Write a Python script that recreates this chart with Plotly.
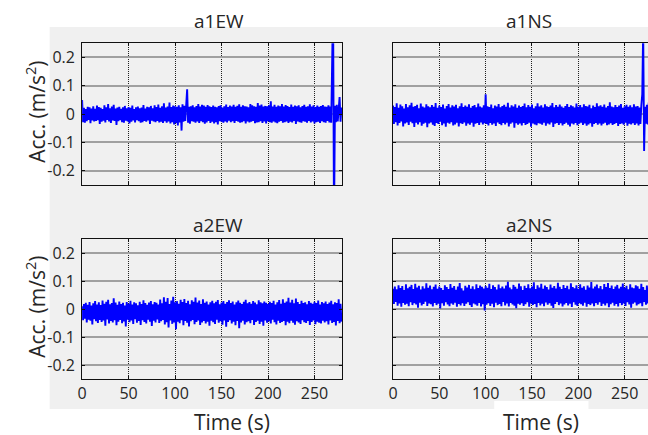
import numpy as np
import plotly.graph_objects as go

# Acceleration records in mm/s^2, one sample per second
a1EW = [
    50, -28, 22, -30, 18, -25, 26, -20, 24, -32, 20, -22, 28, -26, 19, -24, 30, -21, 25, -35,
    22, -27, 18, -23, 31, -29, 24, -20, 36, -26, 21, -31, 27, -22, 33, -24, 20, -38, 23, -25,
    26, -21, 19, -28, 24, -30, 29, -23, 21, -26, 25, -33, 22, -27, 30, -22, 18, -29, 24, -21,
    27, -25, 21, -30, 23, -28, 32, -24, 20, -27, 26, -22, 24, -35, 29, -23, 21, -26, 31, -28,
    25, -24, 34, -29, 22, -27, 28, -31, 38, -25, 23, -30, 27, -26, 41, -33, 25, -28, 30, -36,
    28, -31, 26, -40, 31, -29, 24, -58, 35, -27, 29, -24, 33, 88, -30, 26, -34, 28, -25, 31,
    -27, 24, -30, 29, -26, 36, -31, 27, -25, 33, -28, 30, -34, 26, -29, 32, -24, 28, -31, 25,
    -27, 30, -33, 26, -28, 24, -36, 29, -25, 31, -27, 23, -30, 28, -26, 34, -29, 25, -23, 30,
    -28, 27, -25, 33, -31, 26, -24, 29, -27, 35, -30, 26, -28, 31, -25, 28, -33, 27, -26, 24,
    -29, 36, -27, 31, -24, 28, -32, 26, -29, 39, -28, 30, -25, 34, -31, 27, -26, 29, -33, 28,
    -25, 31, -28, 45, -30, 27, -26, 33, -29, 26, -32, 30, -27, 28, -24, 36, -30, 27, -28, 32,
    -26, 29, -31, 25, -27, 34, -29, 26, -24, 30, -35, 28, -26, 31, -28, 24, -30, 29, -25, 33,
    -27, 26, -30, 28, -24, 35, -29, 27, -26, 31, -33, 25, -28, 30, -27, 26, -31, 29, -25, 32,
    -28, 27, -30, 26, -24, 31, -29, 27, -30, 140, 400, -400, 30, -28, 33, -26, 29, 60, -27, 24,
]

a1NS = [
    30, -35, 25, -28, 38, -40, 22, -31, 34, -26, 28, -43, 20, -33, 36, -29, 24, -38, 31, -27,
    40, -32, 26, -45, 29, -30, 33, -36, 21, -28, 37, -41, 27, -34, 23, -30, 35, -46, 28, -33,
    24, -29, 32, -37, 26, -42, 39, -31, 22, -35, 30, -27, 25, -39, 34, -33, 20, -44, 29, -30,
    36, -34, 23, -28, 31, -40, 27, -36, 33, -30, 21, -43, 28, -32, 38, -35, 25, -29, 30, -41,
    26, -33, 35, -37, 22, -30, 29, -44, 32, -34, 24, -31, 37, -38, 27, -29, 23, -36, 31, -32,
    70, -35, 28, -40, 25, -31, 34, -37, 21, -33, 30, -42, 27, -29, 36, -35, 24, -39, 29, -31,
    33, -36, 26, -30, 40, -43, 23, -34, 31, -29, 27, -48, 35, -32, 22, -37, 30, -33, 25, -40,
    29, -31, 37, -38, 24, -35, 32, -30, 26, -44, 34, -33, 21, -36, 28, -39, 38, -32, 27, -34,
    31, -37, 23, -30, 35, -41, 28, -33, 25, -36, 30, -29, 39, -45, 24, -34, 32, -31, 26, -38,
    34, -32, 27, -40, 22, -35, 29, -30, 36, -37, 25, -43, 31, -33, 28, -36, 23, -31, 37, -39,
    26, -34, 32, -30, 24, -38, 35, -33, 29, -41, 27, -36, 33, -32, 21, -44, 30, -35, 25, -31,
    38, -37, 28, -33, 31, -40, 26, -34, 34, -30, 23, -39, 29, -36, 42, -32, 27, -38, 24, -35,
    32, -31, 25, -42, 30, -35, 36, -33, 22, -37, 28, -30, 33, -41, 26, -34, 31, -36, 24, -32,
    35, -38, 27, -33, 29, -40, 23, -35, 31, 70, 300, -130, 26, -34, 33, -36, 41, -31, 28, -37,
]

a2EW = [
    10, -40, 18, -35, 22, -48, 15, -38, 25, -42, 12, -55, 20, -36, 28, -44, 16, -50, 24, -39,
    14, -46, 30, -41, 19, -60, 26, -37, 33, -52, 17, -43, 21, -48, 38, -40, 23, -58, 15, -45,
    27, -39, 18, -51, 22, -44, 12, -62, 25, -38, 19, -47, 29, -41, 16, -53, 24, -36, 20, -49,
    13, -43, 26, -57, 18, -40, 31, -46, 21, -52, 15, -38, 23, -45, 28, -61, 17, -42, 25, -48,
    22, -37, 16, -50, 34, -44, 20, -39, 42, -55, 26, -47, 39, -66, 18, -41, 30, -53, 44, -48,
    24, -72, 28, -45, 19, -51, 33, -40, 25, -58, 36, -43, 21, -49, 29, -62, 17, -44, 31, -39,
    26, -54, 41, -46, 23, -41, 30, -57, 18, -48, 35, -43, 22, -52, 27, -45, 16, -60, 24, -42,
    29, -47, 20, -53, 26, -38, 32, -49, 17, -44, 23, -56, 28, -41, 19, -63, 25, -46, 31, -40,
    21, -52, 27, -45, 16, -58, 24, -43, 30, -69, 22, -48, 18, -42, 26, -55, 33, -47, 20, -44,
    25, -51, 19, -39, 28, -57, 23, -46, 17, -42, 31, -53, 24, -45, 20, -60, 27, -41, 22, -49,
    18, -44, 26, -52, 21, -38, 29, -47, 16, -55, 24, -42, 32, -50, 19, -46, 35, -43, 22, -58,
    27, -45, 40, -51, 23, -42, 33, -49, 20, -56, 37, -44, 25, -48, 18, -53, 29, -40, 21, -47,
    24, -50, 17, -43, 28, -57, 22, -46, 19, -41, 26, -54, 21, -45, 30, -49, 16, -52, 25, -42,
    20, -48, 27, -44, 18, -55, 23, -41, 29, -50, 17, -46, 24, -59, 21, -43, 35, -51, 19, -45,
]

a2NS = [
    72, 18, 80, 25, 70, 12, 85, 20, 75, 8, 82, 22, 68, 15, 88, 19, 74, 10, 79, 24,
    86, 14, 71, 21, 90, 16, 77, 5, 83, 23, 69, 13, 81, 18, 73, 26, 92, 11, 76, 20,
    84, 17, 70, 9, 79, 22, 87, 14, 72, 19, 80, 2, 75, 21, 68, 12, 85, 24, 78, 16,
    71, 10, 89, 20, 76, 15, 82, 23, 69, 8, 80, 18, 93, 13, 74, 21, 66, 11, 83, 19,
    77, 24, 86, 14, 72, 7, 81, 20, 70, 16, 88, 12, 75, 22, 84, 9, 79, 17, 73, -5,
    82, 15, 76, 21, 90, 11, 71, 19, 85, 6, 78, 23, 69, 14, 87, 18, 74, 10, 80, 25,
    73, 13, 84, 20, 97, 9, 77, 22, 70, 16, 86, 12, 79, 3, 72, 19, 91, 15, 81, 21,
    68, 11, 83, 17, 75, 24, 88, 8, 74, 20, 80, 14, 95, 18, 71, 6, 85, 22, 77, 13,
    90, 19, 72, 10, 84, 23, 78, 15, 69, 21, 87, 12, 76, 4, 82, 18, 73, 25, 94, 14,
    79, 20, 71, 9, 86, 16, 75, 22, 83, 13, 70, 19, 92, 7, 78, 24, 74, 15, 85, 11,
    72, 21, 88, 17, 76, 12, 81, 23, 69, 8, 84, 18, 77, 14, 96, 20, 73, 10, 80, 22,
    87, 15, 74, 24, 82, 11, 70, 19, 89, 13, 78, 21, 93, 6, 75, 17, 84, 23, 71, 12,
    80, 18, 86, 9, 73, 22, 79, 14, 91, 20, 76, 11, 83, 24, 70, 16, 88, 5, 77, 19,
    74, 23, 85, 13, 81, 17, 72, 21, 90, 10, 78, 25, 68, 15, 84, 20, 76, 12, 87, 18,
]

panel_names = ["a1EW", "a1NS", "a2EW", "a2NS"]
x_tick_vals = [0, 50, 100, 150, 200, 250]
y_tick_vals = [-0.2, -0.1, 0, 0.1, 0.2]
y_tick_text = ["-0.2", "-0.1", "0", "0.1", "0.2"]

W, H = 648, 435
FONT = "Open Sans"
TXT = "#262626"


def px_x(v):
    return v / W


def px_y(v):
    return 1 - v / H


series = [a1EW, a1NS, a2EW, a2NS]
fig = go.Figure()
for i, vals in enumerate(series):
    acc = np.array(vals, dtype=float) / 1000.0  # mm/s^2 -> m/s^2
    t = np.arange(len(acc), dtype=float)
    fig.add_trace(go.Scatter(
        x=t, y=acc, mode="lines",
        line=dict(color="rgb(0,0,255)", width=1.9),
        xaxis="x" if i == 0 else f"x{i + 1}",
        yaxis="y" if i == 0 else f"y{i + 1}",
        showlegend=False, hoverinfo="skip",
    ))

# panel domains in pixels: (left, right, top, bottom)
left_col = (77.7, 340.0)
right_col = (391.0, 648.0)
top_row = (43.3, 185.0)
bot_row = (239.0, 379.0)
panels = [
    (left_col, top_row, [0, 280], True, False),
    (right_col, top_row, [0, 275.2], False, False),
    (left_col, bot_row, [0, 280], True, True),
    (right_col, bot_row, [0, 275.2], False, True),
]

layout = dict(
    width=W, height=H,
    margin=dict(l=0, r=0, t=0, b=0),
    paper_bgcolor="white",
    plot_bgcolor="white",
    font=dict(family=FONT, color=TXT, size=16),
    showlegend=False,
)

for i, (cx, cy, xr, left, bottom) in enumerate(panels):
    xk = "xaxis" if i == 0 else f"xaxis{i + 1}"
    yk = "yaxis" if i == 0 else f"yaxis{i + 1}"
    xa = "x" if i == 0 else f"x{i + 1}"
    ya = "y" if i == 0 else f"y{i + 1}"
    layout[xk] = dict(
        domain=[px_x(cx[0]), px_x(cx[1])], range=xr, anchor=ya,
        tickvals=x_tick_vals, showticklabels=bottom,
        tickfont=dict(size=16, color=TXT),
        showgrid=True, gridcolor="#202020", griddash="1px,1px", gridwidth=1,
        showline=True, linecolor="#111", linewidth=1, mirror="ticks",
        ticks="inside", ticklen=3, tickcolor="#111",
        zeroline=False, fixedrange=True,
    )
    layout[yk] = dict(
        domain=[px_y(cy[1]), px_y(cy[0])], range=[-0.25, 0.25], anchor=xa,
        tickvals=y_tick_vals, ticktext=y_tick_text, showticklabels=left,
        tickfont=dict(size=16, color=TXT), ticklabelstandoff=3,
        showgrid=True, gridcolor="#a0a0a0", gridwidth=1.5,
        showline=True, linecolor="#111", linewidth=1,
        mirror="ticks" if left else False,
        ticks="inside", ticklen=3, tickcolor="#111",
        zeroline=False, fixedrange=True,
    )

shapes = [
    # light grey backdrop behind the panels
    dict(type="rect", xref="paper", yref="paper", layer="below",
         x0=px_x(45), x1=1, y0=px_y(409), y1=px_y(27),
         fillcolor="#f0f0f0", line=dict(width=0)),
    dict(type="rect", xref="paper", yref="paper", layer="below",
         x0=px_x(493), x1=px_x(588), y0=0, y1=px_y(401),
         fillcolor="white", line=dict(width=0)),
]

annotations = []
title_pos = [(216, 21), (528, 21), (215, 225), (528, 225)]
for name, (tx, ty) in zip(panel_names, title_pos):
    annotations.append(dict(
        text=name, x=px_x(tx), y=px_y(ty), xref="paper", yref="paper",
        xanchor="center", yanchor="middle", showarrow=False,
        font=dict(size=19, color=TXT, family=FONT),
    ))
for ty in (112, 307):
    annotations.append(dict(
        text="Acc. (m/s<sup>2</sup>)", x=px_x(30), y=px_y(ty),
        xref="paper", yref="paper", xanchor="center", yanchor="middle",
        textangle=-90, showarrow=False,
        font=dict(size=21, color=TXT, family=FONT),
    ))
for tx in (229, 540):
    annotations.append(dict(
        text="Time (s)", x=px_x(tx), y=px_y(422), xref="paper", yref="paper",
        xanchor="center", yanchor="middle", showarrow=False,
        font=dict(size=21, color=TXT, family=FONT),
    ))

layout["shapes"] = shapes
layout["annotations"] = annotations
fig.update_layout(**layout)
fig.write_html("out.html")
